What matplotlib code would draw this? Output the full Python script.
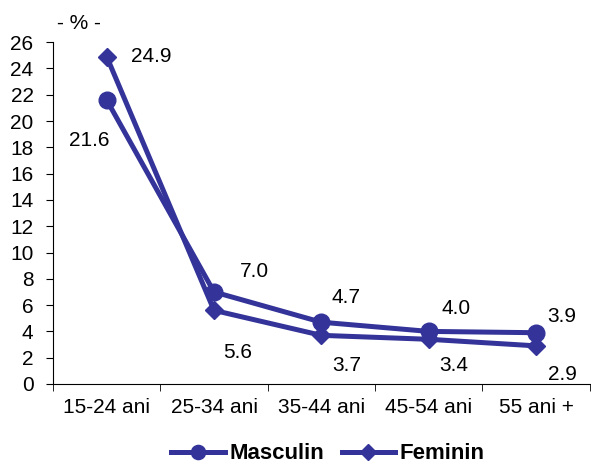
import matplotlib.pyplot as plt
import numpy as np

plt.rcParams['font.family'] = ['Liberation Sans', 'DejaVu Sans']

categories = ['15-24 ani', '25-34 ani', '35-44 ani', '45-54 ani', '55 ani +']
masculin = [21.6, 7.0, 4.7, 4.0, 3.9]
feminin = [24.9, 5.6, 3.7, 3.4, 2.9]

# label offsets in pixels
off_m = [(-17, -41), (40, 20), (25, 25), (27, 23), (26, 16)]
off_f = [(45, 0), (24, -42), (25, -30), (25, -26), (26, -29)]

color = '#333399'

fig = plt.figure(figsize=(5.91, 4.68), dpi=100)
ax = fig.add_axes([0.0897, 0.1795, 0.908, 0.7305])

x = np.arange(len(categories))
ax.plot(x, masculin, color=color, lw=3.6, marker='o', ms=12, label='Masculin')
ax.plot(x, feminin, color=color, lw=3.6, marker='D', ms=9, label='Feminin')

for i in range(len(x)):
    ax.annotate(f'{masculin[i]:.1f}', (x[i], masculin[i]), xytext=off_m[i],
                textcoords='offset pixels', ha='center', va='center', fontsize=15)
    ax.annotate(f'{feminin[i]:.1f}', (x[i], feminin[i]), xytext=off_f[i],
                textcoords='offset pixels', ha='center', va='center', fontsize=15)

ax.set_xlim(-0.5, len(categories) - 0.5)
ax.set_ylim(0, 26)
ax.set_yticks(range(0, 27, 2))
ax.set_xticks(x)
ax.set_xticklabels(categories)
ax.set_xticks(np.arange(-0.5, len(categories), 1), minor=True)
ax.tick_params(axis='x', which='major', length=0, labelsize=15, pad=10)
ax.tick_params(axis='x', which='minor', length=5, direction='out')
ax.tick_params(axis='y', length=5, labelsize=15, pad=9)
ax.spines['top'].set_visible(False)
ax.spines['right'].set_visible(False)

fig.text(0.134, 0.949, '- % -', ha='center', va='center', fontsize=15)

leg = fig.legend(loc='center', bbox_to_anchor=(0.555, 0.03), ncol=2, frameon=False,
                 prop={'weight': 'bold', 'size': 16}, handlelength=2.4,
                 columnspacing=0.8, handletextpad=0.2, markerscale=0.85,
                 borderpad=0.1)

fig.savefig('out.png', dpi=100)
